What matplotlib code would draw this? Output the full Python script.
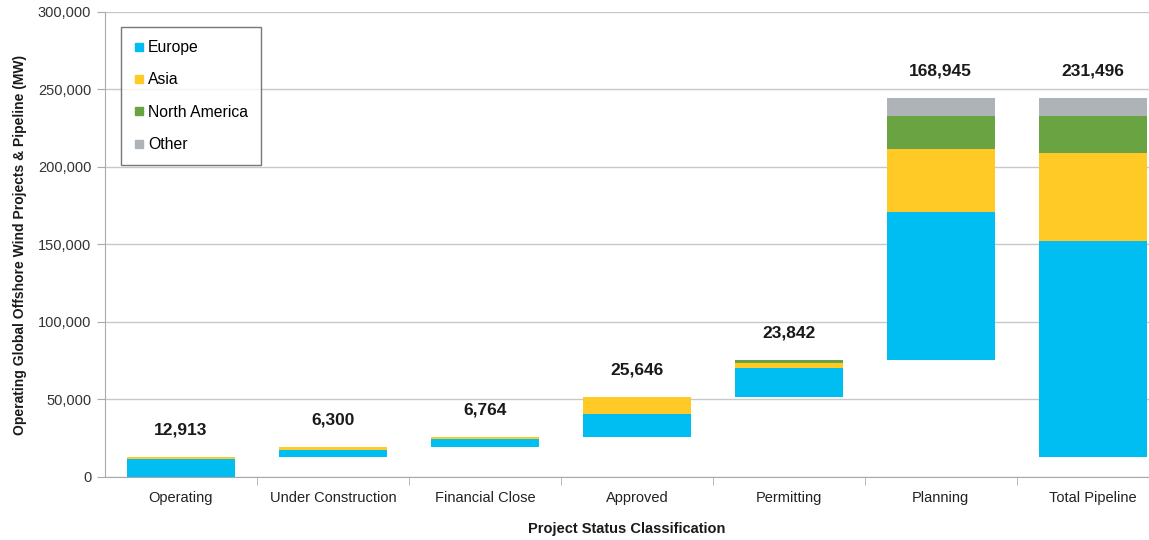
import numpy as np
import matplotlib
matplotlib.use("Agg")
import matplotlib.pyplot as plt
from matplotlib.lines import Line2D
import matplotlib.ticker as mticker

plt.rcParams['font.family'] = ['Liberation Sans', 'DejaVu Sans']

categories = ['Operating', 'Under Construction', 'Financial Close', 'Approved',
              'Permitting', 'Planning', 'Total Pipeline']
regions = ['Europe', 'Asia', 'North America', 'Other']
colors = ['#00BDF2', '#FFC926', '#6AA341', '#AEB3B8']

# MW per region for each stage
europe = [11613, 4200, 5464, 14900, 18600, 95700, 139345]
asia = [1300, 2100, 1300, 10746, 3450, 40450, 56970]
north_america = [0, 0, 0, 0, 1792, 21100, 23470]
other = [0, 0, 0, 0, 0, 11695, 11711]
totals = [12913, 6300, 6764, 25646, 23842, 168945, 231496]
# waterfall floor for each bar
bases = [0, 12913, 19213, 25977, 51623, 75465, 12913]

series = [europe, asia, north_america, other]

fig = plt.figure(figsize=(11.49, 5.4), dpi=100)
ax = fig.add_axes([0.0914, 0.1167, 0.9086, 0.8611])

x = np.arange(len(categories))
bottom = np.array(bases, dtype=float)
for vals, col, name in zip(series, colors, regions):
    ax.bar(x, vals, bottom=bottom, width=0.71, color=col, label=name, zorder=3)
    bottom = bottom + np.array(vals)

for i, t in enumerate(totals):
    top = bases[i] + sum(s[i] for s in series)
    ax.annotate(f'{t:,}', (x[i], top), xytext=(0, 14), textcoords='offset points',
                ha='center', va='bottom', fontsize=12.5, fontweight='bold', color='#1a1a1a')

ax.set_xlim(-0.5, 6.37)
ax.set_ylim(0, 300000)
ax.yaxis.set_major_locator(mticker.MultipleLocator(50000))
ax.yaxis.set_major_formatter(mticker.FuncFormatter(lambda v, p: f'{int(v):,}'))
ax.grid(axis='y', color='#c8c8c8', linewidth=1.0, zorder=0)
ax.set_axisbelow(True)

ax.set_xticks(x)
ax.set_xticklabels(categories)
ax.set_xticks(np.arange(0.5, 6.5, 1), minor=True)
ax.tick_params(axis='x', which='major', length=0, pad=10, labelsize=10.5, labelcolor='#222222')
ax.tick_params(axis='x', which='minor', length=6, color='#aaaaaa')
ax.tick_params(axis='y', length=6, color='#aaaaaa', labelsize=10.5, labelcolor='#333333', pad=4)

for s in ['top', 'right']:
    ax.spines[s].set_visible(False)
ax.spines['left'].set_color('#aaaaaa')
ax.spines['bottom'].set_color('#aaaaaa')

ax.set_xlabel('Project Status Classification', fontsize=10.5, fontweight='bold',
              color='#1a1a1a', labelpad=12)
ax.set_ylabel('Operating Global Offshore Wind Projects & Pipeline (MW)', fontsize=10,
              fontweight='bold', color='#1a1a1a', labelpad=8)

handles = [Line2D([0], [0], marker='s', linestyle='none', markersize=6,
                  markerfacecolor=c, markeredgecolor=c) for c in colors]
leg = ax.legend(handles, regions, loc='upper left', bbox_to_anchor=(0.015, 0.968),
                frameon=True, fancybox=False, fontsize=11.3, labelspacing=1.1,
                handlelength=0.6, handletextpad=0.3, borderpad=0.85, borderaxespad=0)
leg.get_frame().set_edgecolor('#555555')
leg.get_frame().set_linewidth(1.0)

fig.savefig('out.png', dpi=100)
